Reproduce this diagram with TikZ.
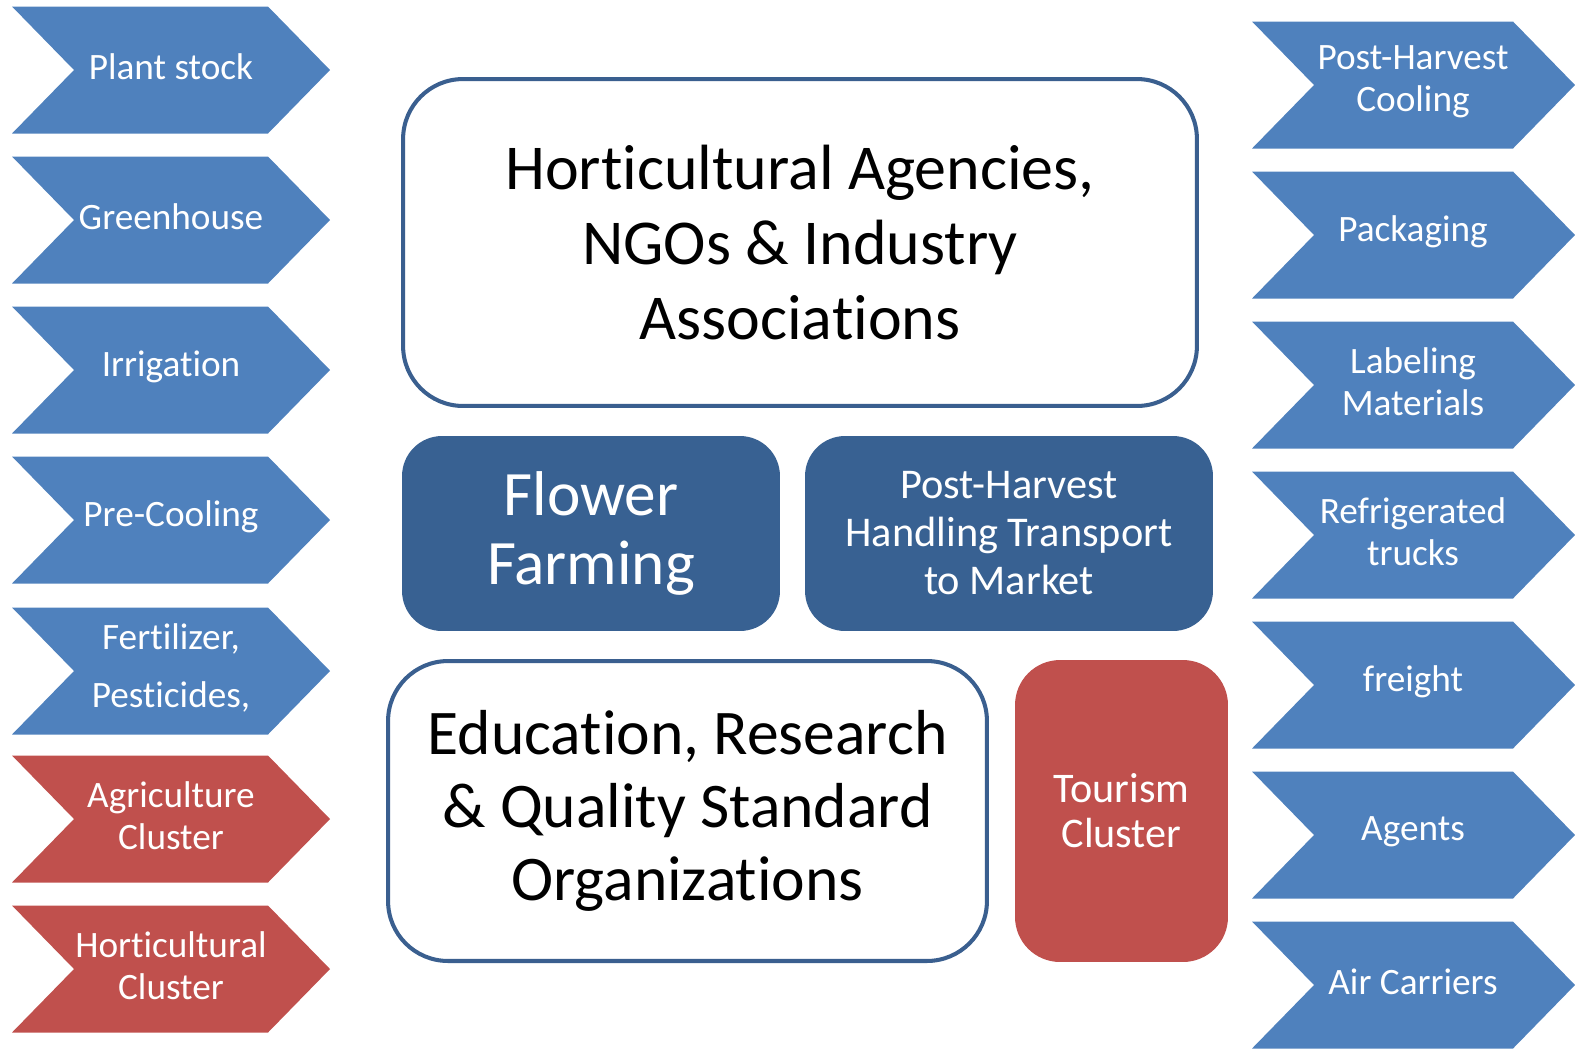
\documentclass[tikz,border=0pt]{standalone}
\usepackage{fontspec}
\setmainfont[Ligatures=NoCommon]{Carlito}

\definecolor{chevblue}{RGB}{79,129,189}
\definecolor{chevred}{RGB}{192,80,77}
\definecolor{boxblue}{RGB}{56,97,146}
\definecolor{boxline}{RGB}{58,95,143}

\begin{document}
\begin{tikzpicture}[x=0.02cm,y=-0.02cm]
\tikzset{
    chevtext/.style={text=white, align=center, font=\fontsize{21.2}{24}\selectfont},
    bigbox/.style={draw=boxline, line width=2.3pt, fill=white, rounded corners=1.2cm, align=center},
    darkbox/.style={fill=boxblue, text=white, rounded corners=0.8cm, align=center}
}
\useasboundingbox (0,0) rectangle (1575,1049);

% Chevrons, left column
\foreach \name/\y/\col/\txt in {plant/67/chevblue/Plant stock,
    green/217/chevblue/Greenhouse,
    irrig/367/chevblue/Irrigation,
    precool/517/chevblue/Pre-Cooling,
    fert/668/chevblue/{Fertilizer,\\[9pt]Pesticides,},
    agri/816/chevred/{Agriculture\\Cluster},
    horti/966/chevred/{Horticultural\\Cluster}}{
    \fill[\col] (12,70+\y-67) ++(0,-63.5) -- ++(256,0) -- ++(62,63.5) -- ++(-62,63.5) -- ++(-256,0) -- ++(62,-63.5) -- cycle;
    \node[chevtext] (\name) at (171,\y) {\txt};
}

% Chevrons, right column
\foreach \name/\y/\txt in {phcool/82/{Post-Harvest\\Cooling},
    pack/232/Packaging,
    label/382/{Labeling\\Materials},
    trucks/532/{Refrigerated\\trucks},
    freight/682/freight,
    agents/832/Agents,
    air/982/Air Carriers}{
    \fill[chevblue] (1252,85+\y-82) ++(0,-63.5) -- ++(261,0) -- ++(62,63.5) -- ++(-62,63.5) -- ++(-261,0) -- ++(62,-63.5) -- cycle;
    \node[chevtext] (\name) at (1413,\y) {\txt};
}

% Centre boxes
\node[bigbox, minimum width=15.88cm, minimum height=6.54cm,
    font=\fontsize{36.4}{42.7}\selectfont] (agencies) at (800,242.5)
    {Horticultural Agencies,\\NGOs \& Industry\\Associations};
\node[darkbox, minimum width=7.56cm, minimum height=3.9cm,
    font=\fontsize{36}{39.8}\selectfont] (farming) at (591,533.5)
    {Flower\\Farming};
\node[darkbox, minimum width=8.16cm, minimum height=3.9cm,
    font=\fontsize{24.1}{27.3}\selectfont] (handling) at (1009,533.5)
    {Post-Harvest\\Handling Transport\\to Market};
\node[bigbox, minimum width=11.98cm, minimum height=6.0cm,
    font=\fontsize{36.2}{41.5}\selectfont] (education) at (687.5,811)
    {Education, Research\\\& Quality Standard\\Organizations};
\node[darkbox, fill=chevred, rounded corners=0.9cm, minimum width=4.26cm, minimum height=6.04cm,
    font=\fontsize{24}{25.6}\selectfont] (tourism) at (1121.5,811)
    {Tourism\\Cluster};
\end{tikzpicture}
\end{document}
